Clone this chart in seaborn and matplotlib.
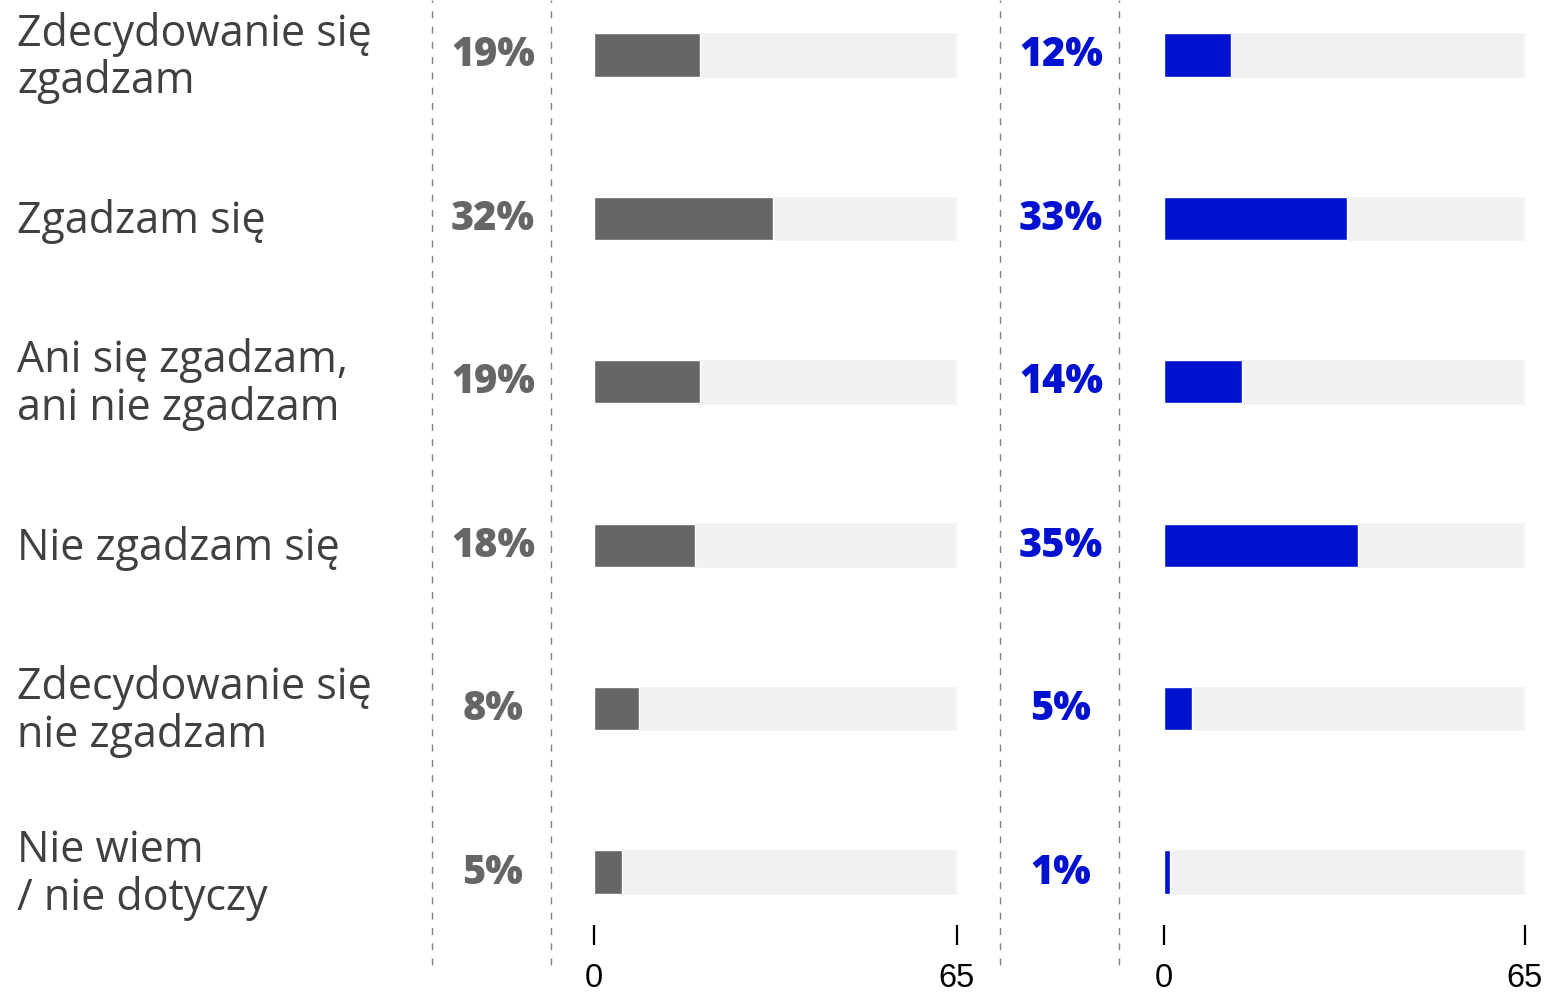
import matplotlib
matplotlib.use("Agg")
import matplotlib.pyplot as plt
from matplotlib.lines import Line2D
import seaborn as sns
import pandas as pd

categories = ["Zdecydowanie się\nzgadzam", "Zgadzam się", "Ani się zgadzam,\nani nie zgadzam",
              "Nie zgadzam się", "Zdecydowanie się\nnie zgadzam", "Nie wiem\n/ nie dotyczy"]
values_gray = [19, 32, 19, 18, 8, 5]
values_blue = [12, 33, 14, 35, 5, 1]
axis_max = 65
tick_values = [0, 65]

sns.set_theme(style="white")
plt.rcParams['font.family'] = ['Open Sans', 'DejaVu Sans']

W, H = 1544, 997
fig = plt.figure(figsize=(W / 100, H / 100), dpi=100)

GRAY = "#666666"
BLUE = "#0012D0"
BG = "#F1F1F1"
LABEL = "#404040"

row0, step = 55, 163.4
ax_bottom_px = 925
ylim = ((ax_bottom_px - row0) / step, -row0 / step)

df = pd.DataFrame({"cat": categories, "gray": values_gray, "blue": values_blue,
                   "full": [axis_max] * len(categories)})


def px2fx(x):
    return x / W


def py2fy(y):
    return 1 - y / H


def make_ax(x0, x1, col, color):
    ax = fig.add_axes([px2fx(x0), py2fy(ax_bottom_px), (x1 - x0) / W, ax_bottom_px / H])
    sns.barplot(data=df, y="cat", x="full", order=categories, color=BG, width=0.28,
                ax=ax, orient="h", saturation=1)
    sns.barplot(data=df, y="cat", x=col, order=categories, color=color, width=0.265,
                ax=ax, orient="h", saturation=1)
    ax.set_xlim(0, axis_max)
    ax.set_ylim(*ylim)
    for s in ax.spines.values():
        s.set_visible(False)
    ax.set_yticks([])
    ax.set_ylabel("")
    ax.set_xlabel("")
    ax.set_xticks(tick_values)
    ax.set_xticklabels([str(t) for t in tick_values], fontsize=23.5, color="black",
                       family=["Liberation Sans", "DejaVu Sans"])
    ax.tick_params(axis="x", bottom=True, direction="out", length=14.5, width=1.6,
                   color="black", pad=13)
    ax.set_facecolor("none")
    return ax


make_ax(594, 957, "gray", GRAY)
make_ax(1164, 1525, "blue", BLUE)

# dashed separators
for xp in [432, 551, 1000, 1119]:
    fig.add_artist(Line2D([px2fx(xp), px2fx(xp)], [py2fy(965), py2fy(0)],
                          transform=fig.transFigure, color="#808080", lw=1,
                          linestyle=(0, (5, 6))))

for i, cat in enumerate(categories):
    yc = row0 + step * i
    fig.text(px2fx(17), py2fy(yc + 3), cat, ha="left", va="center", fontsize=31,
             color=LABEL, linespacing=1.08)
    fig.text(px2fx(493), py2fy(yc + 1), f"{values_gray[i]}%", ha="center", va="center",
             fontsize=28.5, fontweight="heavy", color=GRAY)
    fig.text(px2fx(1061), py2fy(yc + 1), f"{values_blue[i]}%", ha="center", va="center",
             fontsize=28.5, fontweight="heavy", color=BLUE)

fig.savefig("out.png", dpi=100)
